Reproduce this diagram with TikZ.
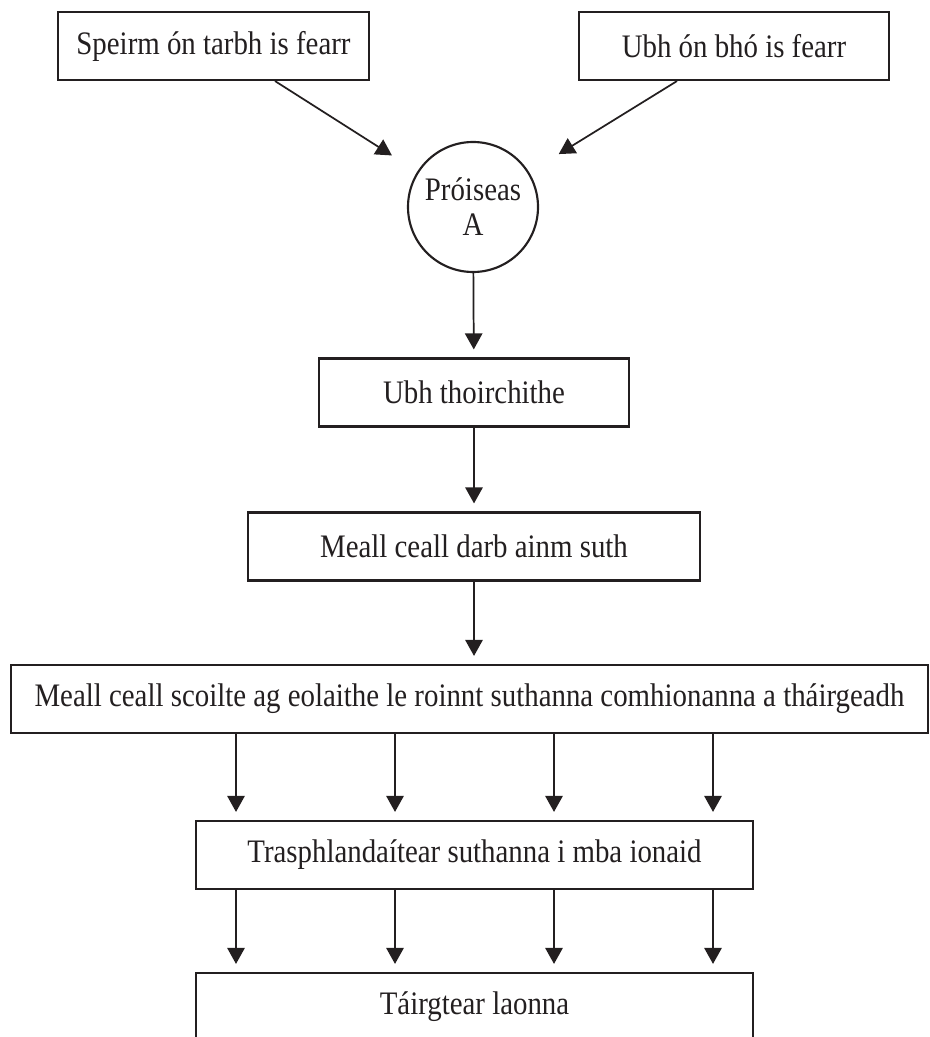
\documentclass[tikz,border=0pt]{standalone}
\usepackage{fontspec}
\setmainfont[FakeStretch=0.88]{Liberation Serif}
\usepackage{tikz}
\usetikzlibrary{arrows.meta,calc}
\definecolor{ink}{HTML}{231F20}

\begin{document}
\begin{tikzpicture}[x=0.75pt,y=-0.75pt,
    every node/.style={font=\fontsize{24.6}{26.25}\selectfont,text=ink},
    box/.style={draw=ink,line width=1.6pt,inner sep=0pt,minimum height=51pt},
    ring/.style={draw=ink,circle,line width=1.6pt,inner sep=0pt,minimum size=97.5pt,align=center},
    link/.style={draw=ink,line width=1.3pt,-{Triangle[length=12pt,width=13pt]},shorten >=6pt}]%
    \useasboundingbox (0,0) rectangle (929,1037);%%
    \clip (0,0) rectangle (929,1037);%%
    % boxes
    \node[box,minimum width=233pt] (sperm) at (213.5,46) {Speirm ón tarbh is fearr}; %%
    \node[box,minimum width=232.5pt] (egg) at (734,46) {Ubh ón bhó is fearr}; %%
    \node[ring] (proc) at (473,207) {Próiseas\\A}; %%
    \node[box,minimum width=232.5pt] (fert) at (474,392.5) {Ubh thoirchithe}; %%
    \node[box,minimum width=339pt] (morula) at (474,546.5) {Meall ceall darb ainm suth}; %%
    \node[box,minimum width=687.75pt] (split) at (469.5,699) {Meall ceall scoilte ag eolaithe le roinnt suthanna comhionanna a tháirgeadh}; %%
    \node[box,minimum width=417.75pt] (transplant) at (474.5,855) {Trasphlandaítear suthanna i mba ionaid}; %%
    \node[box,minimum width=417.75pt] (calves) at (474.5,1007) {Táirgtear laonna}; %%
    % arrows
    \draw[link,shorten >=22.5pt] ($(sperm.south)+(61.5,0)$) -- (proc); %%
    \draw[link,shorten >=26pt] ($(egg.south)+(-57,0)$) -- (proc); %%
    \draw[link] (proc) -- (fert); %%
    \draw[link] (fert) -- (morula); %%
    \draw[link] (morula.south) -- (morula.south |- split.north); %%
    \foreach \dx in {-238.5,-79.5,79.5,238.5} {
        \draw[link] ($(split.south -| transplant.north)+(\dx,0)$) -- ($(transplant.north)+(\dx,0)$); %%
        \draw[link] ($(transplant.south)+(\dx,0)$) -- ($(calves.north)+(\dx,0)$); %%
    }
\end{tikzpicture}
\end{document}
